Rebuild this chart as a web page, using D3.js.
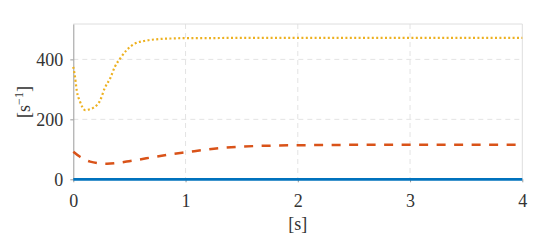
<!DOCTYPE html>
<html><head><meta charset="utf-8">
<script src="https://cdn.jsdelivr.net/npm/d3@7"></script>
<style>body{margin:0;background:#fff}svg{display:block}</style>
</head><body>
<svg id="c" width="538" height="243"></svg>
<script>
const xTicks = [0, 1, 2, 3, 4];
const yTicks = [0, 200, 400];
const tBlue = [0, 4];
const vBlue = [0, 0];
const tYellow = [0, 0.015, 0.03, 0.06, 0.105, 0.14, 0.18, 0.24, 0.28, 0.33, 0.37, 0.42, 0.475, 0.55, 0.64, 0.77, 0.9, 1.0, 1.2, 1.5, 2.0, 3.0, 4.0];
const vYellow = [375, 342, 298, 259, 231, 233, 239, 264, 304, 338, 375, 404, 431, 453, 462, 468, 470, 471, 471, 472, 472, 472, 472];
const tOrange = [0, 0.06, 0.15, 0.3, 0.475, 0.65, 0.86, 1.0, 1.3, 1.63, 2.13, 2.6, 3.0, 3.5, 4.0];
const vOrange = [92, 75, 59, 52, 59, 70, 83, 90, 104, 111, 114, 115, 115, 115, 115];

const svg = d3.select("#c");
const L = 73.3, R = 522.3, T = 24, B = 179.3;
const x = d3.scaleLinear().domain([0, 4]).range([L, R]);
const y = d3.scaleLinear().domain([0, 518]).range([B, T]);
const FF = "'Liberation Serif', serif";
const txt = "#333333";

svg.append("g").selectAll("line").data(xTicks.filter(d => d > 0 && d < 4)).join("line")
  .attr("x1", d => x(d)).attr("x2", d => x(d)).attr("y1", T).attr("y2", B)
  .attr("stroke", "#e3e3e3").attr("stroke-width", 1).attr("stroke-dasharray", "5,4");
svg.append("g").selectAll("line").data(yTicks.filter(d => d > 0)).join("line")
  .attr("x1", L).attr("x2", R).attr("y1", d => y(d)).attr("y2", d => y(d))
  .attr("stroke", "#e3e3e3").attr("stroke-width", 1).attr("stroke-dasharray", "5,4");

svg.append("line").attr("x1", L).attr("x2", R).attr("y1", T).attr("y2", T).attr("stroke", "#dedede");
svg.append("line").attr("x1", R).attr("x2", R).attr("y1", T).attr("y2", B).attr("stroke", "#dedede");

const xAxis = d3.axisBottom(x).tickValues(xTicks).tickSizeInner(3).tickSizeOuter(0).tickFormat(d3.format("d")).tickPadding(11.5);
const yAxis = d3.axisLeft(y).tickValues(yTicks).tickSizeInner(3).tickSizeOuter(0).tickFormat(d3.format("d")).tickPadding(7);
const gx = svg.append("g").attr("transform", `translate(0,${B})`).call(xAxis);
const gy = svg.append("g").attr("transform", `translate(${L},0)`).call(yAxis);
[gx, gy].forEach(g => {
  g.attr("font-family", FF).attr("font-size", 18);
  g.select(".domain").attr("stroke", "#9a9a9a");
  g.selectAll(".tick line").attr("stroke", "#9a9a9a");
  g.selectAll("text").attr("font-family", FF).attr("font-size", 18).attr("fill", txt);
});
gx.select(".domain").remove();

const line = d3.line().x(d => x(d[0])).y(d => y(d[1])).curve(d3.curveMonotoneX);
svg.append("path").datum(d3.zip(tYellow, vYellow)).attr("d", line)
  .attr("fill", "none").attr("stroke", "#EDB120").attr("stroke-width", 2.2).attr("stroke-dasharray", "2,2.4");
svg.append("path").datum(d3.zip(tOrange, vOrange)).attr("d", line)
  .attr("fill", "none").attr("stroke", "#D95319").attr("stroke-width", 2.5).attr("stroke-dasharray", "9,8.5");
svg.append("path").datum(d3.zip(tBlue, vBlue)).attr("d", line)
  .attr("fill", "none").attr("stroke", "#0072BD").attr("stroke-width", 2.7);

svg.append("text").attr("x", (L + R) / 2).attr("y", 229.5).attr("text-anchor", "middle")
  .attr("font-family", FF).attr("font-size", 18).attr("fill", txt).text("[s]");
const yl = svg.append("text").attr("transform", `translate(29.5,102) rotate(-90)`)
  .attr("text-anchor", "middle").attr("font-family", FF).attr("font-size", 18).attr("fill", txt);
yl.append("tspan").text("[s");
yl.append("tspan").attr("dy", -7).attr("font-size", 12).text("−1");
yl.append("tspan").attr("dy", 7).text("]");
</script>
</body></html>
